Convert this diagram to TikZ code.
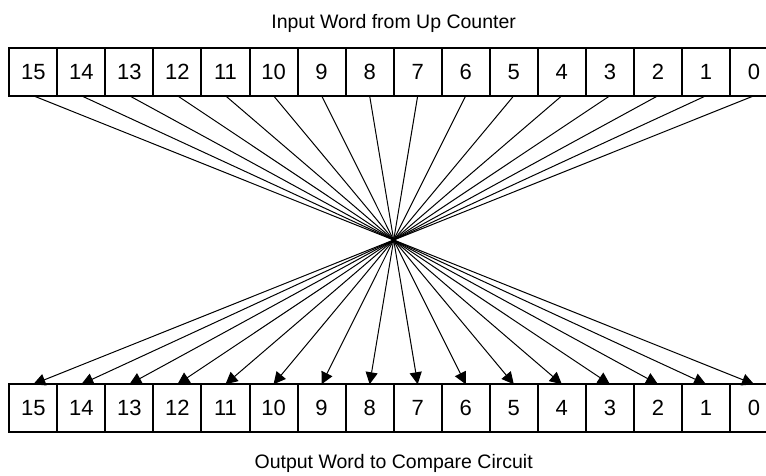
\documentclass[tikz,border=0pt]{standalone}
\usepackage{fontspec}
\setmainfont{Liberation Sans}
\usetikzlibrary{arrows.meta,positioning}
\tikzset{
  rekesz/.style={draw,line width=2pt,fill=white,minimum width=48.05pt,minimum height=47.5pt,
                 inner sep=0pt,outer sep=0pt,font=\fontsize{22}{26}\selectfont},
  nyil/.style={-{Triangle[length=12pt,width=12pt]},line width=1pt},
  felirat/.style={inner sep=0pt,anchor=base,font=\fontsize{19.5}{23}\selectfont},
}
\begin{document}
\begin{tikzpicture}
  \useasboundingbox (0,0) rectangle (766pt,-476pt);
  \clip (0,0) rectangle (766pt,-476pt);
  \node[rekesz] (t15) at (33.3pt,-72pt) {15};
  \node[rekesz,below=288.5pt of t15] (b15) {15};
  \foreach \n [remember=\n as \elozo (initially 15)] in {14,13,...,0}{
    \node[rekesz,right=0pt of t\elozo] (t\n) {\n};
    \node[rekesz,right=0pt of b\elozo] (b\n) {\n};
  }
  \node[felirat,yshift=20pt] (be) at (t8.north east) {Input Word from Up Counter};
  \node[felirat,yshift=-36.3pt] (ki) at (b8.south east) {Output Word to Compare Circuit};
  % bit order reversed
  \foreach \n in {0,...,15}{
    \pgfmathtruncatemacro\m{15-\n}
    \draw[nyil] (t\n.south) -- (b\m.north);
  }
\end{tikzpicture}
\end{document}
